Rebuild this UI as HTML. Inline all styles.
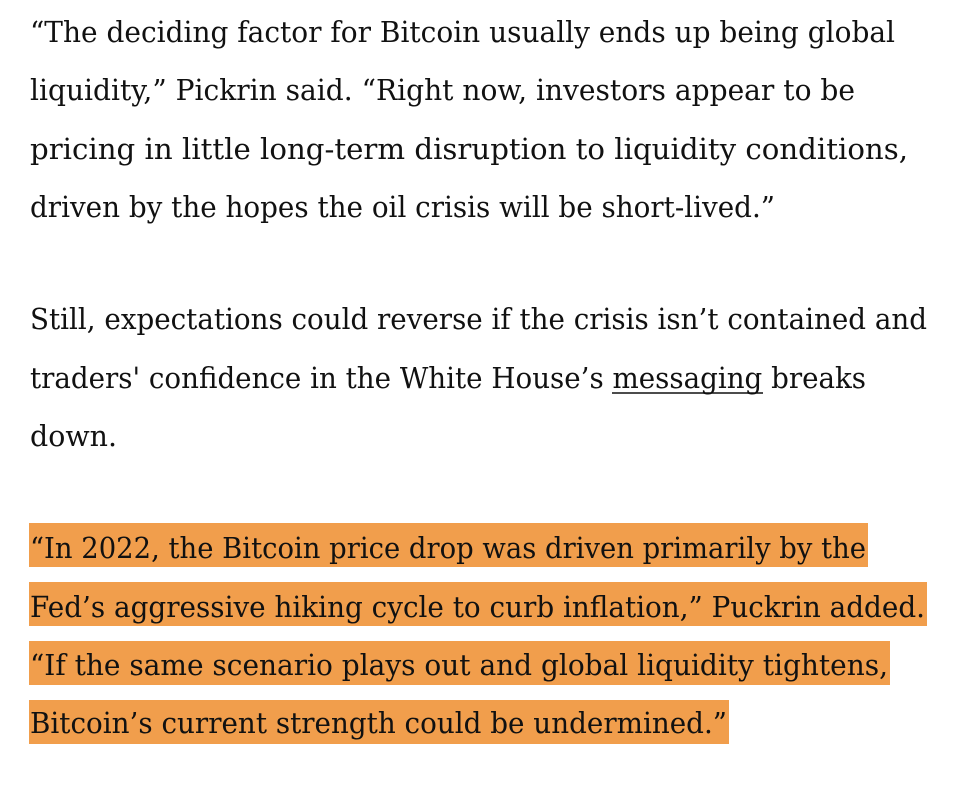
<!DOCTYPE html>
<html><head><meta charset="utf-8"><style>
html,body{margin:0;padding:0;background:#fff;}
svg text{font-family:"DejaVu Serif","Liberation Serif",serif;font-size:29px;fill:#111;}
</style></head><body>
<svg width="966" height="780" xmlns="http://www.w3.org/2000/svg">
<rect x="29" y="523" width="839" height="44" fill="#F19E4C"/>
<rect x="29" y="582" width="898" height="44" fill="#F19E4C"/>
<rect x="29" y="641" width="861" height="44" fill="#F19E4C"/>
<rect x="29" y="700" width="700" height="44" fill="#F19E4C"/>
<text x="30" y="42" textLength="865" lengthAdjust="spacingAndGlyphs">“The deciding factor for Bitcoin usually ends up being global</text>
<text x="30" y="100" textLength="825" lengthAdjust="spacingAndGlyphs">liquidity,” Pickrin said. “Right now, investors appear to be</text>
<text x="30" y="159" textLength="878" lengthAdjust="spacingAndGlyphs">pricing in little long-term disruption to liquidity conditions,</text>
<text x="30" y="217" textLength="745" lengthAdjust="spacingAndGlyphs">driven by the hopes the oil crisis will be short-lived.”</text>
<text x="30" y="329" textLength="897" lengthAdjust="spacingAndGlyphs">Still, expectations could reverse if the crisis isn’t contained and</text>
<text x="30" y="388" textLength="836" lengthAdjust="spacingAndGlyphs">traders' confidence in the White House’s messaging breaks</text>
<line x1="612" y1="393" x2="763" y2="393" stroke="#111" stroke-width="1.5"/>
<text x="30" y="446" textLength="87" lengthAdjust="spacingAndGlyphs">down.</text>
<text x="30" y="558" textLength="836" lengthAdjust="spacingAndGlyphs">“In 2022, the Bitcoin price drop was driven primarily by the</text>
<text x="30" y="617" textLength="895" lengthAdjust="spacingAndGlyphs">Fed’s aggressive hiking cycle to curb inflation,” Puckrin added.</text>
<text x="30" y="675" textLength="858" lengthAdjust="spacingAndGlyphs">“If the same scenario plays out and global liquidity tightens,</text>
<text x="30" y="733" textLength="697" lengthAdjust="spacingAndGlyphs">Bitcoin’s current strength could be undermined.”</text>
</svg>
</body></html>
